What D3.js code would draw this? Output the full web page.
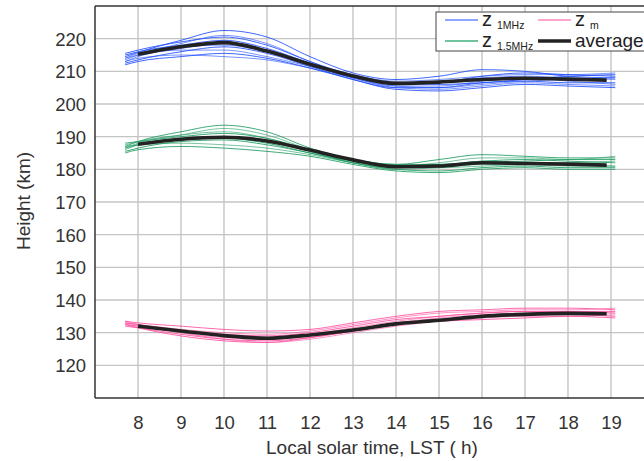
<!DOCTYPE html>
<html><head><meta charset="utf-8">
<script src="https://cdn.jsdelivr.net/npm/d3@7"></script>
<style>body{margin:0;background:#fff}svg{display:block;font-family:"Liberation Sans",Arial,sans-serif}</style>
</head><body><svg id="c" width="644" height="461"></svg>
<script>
// ---- data ----
const xTicks = [8,9,10,11,12,13,14,15,16,17,18,19];
const yTicks = [120,130,140,150,160,170,180,190,200,210,220];
const indivX = [7.7,8,9,10,11,12,13,14,15,16,17,18,19.1];
const avgX = [8,9,10,11,12,13,14,15,16,17,18,18.9];

const z1Avg = [215.2,217.5,218.8,216.2,212.2,208.6,206.3,206.7,207.5,207.9,207.6,207.3];
const z15Avg = [187.7,189.2,189.8,188.7,185.9,182.9,180.8,181.0,182.0,181.8,181.6,181.3];
const zmAvg = [132.0,130.5,129.1,128.3,129.3,130.8,132.7,133.8,135.0,135.6,135.9,135.8];

const z1Curves = [
 [214.5,215.8,219.5,222.5,220.5,214.5,209.5,207.5,208.5,210.5,210.0,208.5,208.0],
 [213.5,215.0,218.5,221.0,218.5,213.0,209.0,207.0,207.5,208.5,209.0,209.0,209.5],
 [215.0,216.0,218.0,219.5,217.0,212.5,208.5,206.5,206.0,206.5,207.5,208.5,209.0],
 [213.0,214.5,217.0,218.5,216.5,212.0,208.0,205.5,205.5,207.0,208.0,207.0,206.0],
 [212.5,213.5,216.0,217.5,215.5,211.5,207.5,205.0,205.0,206.5,207.0,206.5,206.5],
 [214.0,215.0,216.5,216.5,214.5,211.5,208.5,206.5,207.0,208.0,208.5,208.0,207.5],
 [212.0,213.0,214.5,215.5,214.0,211.0,207.5,204.5,204.0,205.0,206.0,205.5,205.0],
 [213.0,214.0,215.0,214.5,213.5,211.0,208.0,205.5,205.0,206.0,207.0,207.5,208.0],
 [215.5,216.5,219.0,220.5,218.0,213.0,208.5,206.0,206.5,208.5,209.5,209.0,208.5],
 [214.0,215.5,217.5,218.0,216.0,212.0,208.0,205.0,204.5,205.5,206.5,206.0,205.5]
];
const z15Curves = [
 [187.0,188.5,191.5,193.5,191.5,186.5,183.0,181.5,183.0,184.5,184.0,183.5,183.5],
 [186.5,188.0,190.5,192.5,190.5,186.0,182.5,181.0,182.0,183.5,183.5,183.0,184.0],
 [188.0,188.5,190.0,191.0,189.5,186.0,183.0,181.5,181.5,182.5,183.0,182.5,182.0],
 [186.0,187.5,189.5,190.0,188.5,185.5,182.0,180.0,180.5,181.5,181.5,181.0,181.0],
 [185.5,186.5,188.5,189.0,187.5,185.0,182.0,180.0,179.5,180.5,181.0,180.5,180.5],
 [187.0,187.5,188.0,187.5,186.5,184.5,182.0,180.5,180.5,181.0,181.5,182.0,182.5],
 [185.0,186.0,187.0,186.5,185.5,184.0,181.5,179.5,179.0,180.0,180.5,180.0,180.0],
 [187.5,188.5,190.5,191.5,189.5,185.5,182.0,180.5,181.0,182.5,182.0,181.5,181.0],
 [186.5,187.5,189.0,189.5,188.0,185.0,182.5,181.0,181.5,182.0,182.5,183.0,183.0]
];
const zmCurves = [
 [133.5,133.0,132.0,131.0,130.5,131.0,133.0,135.0,136.5,137.0,137.5,137.5,137.0],
 [133.0,132.5,131.0,130.0,129.5,130.5,132.5,134.5,136.0,136.5,137.0,137.0,137.5],
 [132.5,132.0,130.5,129.5,129.0,130.0,132.0,134.0,135.0,136.0,136.5,136.5,136.5],
 [133.0,132.5,130.0,128.5,128.0,129.0,131.0,133.0,134.5,135.5,136.0,136.5,136.0],
 [132.0,131.5,129.5,128.0,127.5,128.5,130.5,132.5,134.0,135.0,135.5,135.5,135.0],
 [133.5,132.5,130.0,128.0,127.0,128.0,130.0,132.0,133.5,134.5,135.0,135.0,135.5],
 [132.5,131.5,129.0,127.5,127.0,128.5,130.5,132.5,133.5,134.0,134.5,135.0,134.5],
 [133.0,132.0,130.5,129.0,128.5,129.5,131.5,133.5,135.0,136.0,136.5,136.0,136.0]
];

const colors = {z1:"#1f4dff", z15:"#1f9c62", zm:"#ff4f9f", avg:"#222222"};

// ---- chart ----
const svg = d3.select("#c");
const L = 95, T = 6, B = 398;
const x = d3.scaleLinear().domain([7,20]).range([L, L + 13*43]);
const y = d3.scaleLinear().domain([110,230]).range([B, T]);

const g = svg.append("g");
// grid
g.selectAll(".gx").data(xTicks).join("line")
  .attr("x1", d=>x(d)).attr("x2", d=>x(d)).attr("y1", T).attr("y2", B)
  .attr("stroke", "#c4c4c4").attr("stroke-width", 1.4);
g.selectAll(".gy").data(yTicks).join("line")
  .attr("x1", L).attr("x2", 644).attr("y1", d=>y(d)).attr("y2", d=>y(d))
  .attr("stroke", "#c4c4c4").attr("stroke-width", 1.4);

// frame
g.append("line").attr("x1", L).attr("x2", 644).attr("y1", T).attr("y2", T).attr("stroke", "#333").attr("stroke-width", 1.3);
g.append("line").attr("x1", L).attr("x2", 644).attr("y1", B).attr("y2", B).attr("stroke", "#333").attr("stroke-width", 1.5);
g.append("line").attr("x1", L).attr("x2", L).attr("y1", T).attr("y2", B).attr("stroke", "#333").attr("stroke-width", 1.5);

// axes labels via d3 axes (no tick marks)
const xAxis = d3.axisBottom(x).tickValues(xTicks).tickSize(0).tickPadding(0).tickFormat(d3.format("d"));
const xa = svg.append("g").attr("transform", `translate(0,${B})`).call(xAxis);
xa.select(".domain").remove();
xa.selectAll("text").attr("dy", null).attr("y", 31).attr("fill", "#333").style("font-size", "18.5px").style("font-family", "Liberation Sans, Arial, sans-serif");

const yAxis = d3.axisLeft(y).tickValues(yTicks).tickSize(0).tickPadding(0).tickFormat(d3.format("d"));
const ya = svg.append("g").attr("transform", `translate(${L-9},0)`).call(yAxis);
ya.select(".domain").remove();
ya.selectAll("text").attr("dy", "0.35em").attr("x", 0).attr("fill", "#333").style("font-size", "18.5px").style("font-family", "Liberation Sans, Arial, sans-serif");

// titles
svg.append("text").attr("x", 372).attr("y", 454).attr("text-anchor", "middle")
  .attr("fill", "#333").style("font-size", "19px").text("Local solar time, LST ( h)");
svg.append("text").attr("transform", "translate(30,201) rotate(-90)").attr("text-anchor", "middle")
  .attr("fill", "#333").style("font-size", "19px").text("Height (km)");

// lines
const line = d3.line().x(d=>x(d[0])).y(d=>y(d[1])).curve(d3.curveMonotoneX);
const clip = svg.append("defs").append("clipPath").attr("id","pc").append("rect")
  .attr("x", L).attr("y", T).attr("width", 644-L).attr("height", B-T);
const lg = svg.append("g").attr("clip-path","url(#pc)");
function drawGroup(curves, col){
  curves.forEach((c,i)=>{
    lg.append("path").datum(indivX.map((xx,j)=>[xx,c[j]]))
      .attr("d", line).attr("fill","none").attr("stroke", col)
      .attr("stroke-width", 1).attr("stroke-opacity", i%2 ? 0.6 : 0.85);
  });
}
drawGroup(z1Curves, colors.z1);
drawGroup(z15Curves, colors.z15);
drawGroup(zmCurves, colors.zm);
[z1Avg, z15Avg, zmAvg].forEach(a=>{
  lg.append("path").datum(avgX.map((xx,j)=>[xx,a[j]]))
    .attr("d", line).attr("fill","none").attr("stroke", colors.avg)
    .attr("stroke-width", 3.6).attr("stroke-linecap","butt");
});

// legend
const leg = svg.append("g");
leg.append("rect").attr("x", 436).attr("y", 12).attr("width", 220).attr("height", 39)
  .attr("fill", "#fff").attr("stroke", "#444").attr("stroke-width", 1);
const legItems = [
  {col:colors.z1, w:1.2, x:445, y:20, main:"z", sub:"1MHz"},
  {col:colors.zm, w:1.2, x:538, y:20, main:"z", sub:"m"},
  {col:"#3fb07e", w:1.5, x:445, y:41, main:"z", sub:"1.5MHz"},
  {col:colors.avg, w:3.6, x:538, y:41, main:"average", sub:null}
];
legItems.forEach(it=>{
  leg.append("line").attr("x1", it.x).attr("x2", it.x+33).attr("y1", it.y).attr("y2", it.y)
    .attr("stroke", it.col).attr("stroke-width", it.w);
  if (it.sub) {
    leg.append("text").attr("x", it.x+37).attr("y", it.y+5.5).attr("fill","#222")
      .style("font-size","20px").text(it.main);
    leg.append("text").attr("x", it.x+52).attr("y", it.y+9).attr("fill","#222")
      .style("font-size","10.5px").text(it.sub);
  } else {
    leg.append("text").attr("x", it.x+37).attr("y", it.y+5.5).attr("fill","#222")
      .style("font-size","19px").text(it.main);
  }
});
</script></body></html>
